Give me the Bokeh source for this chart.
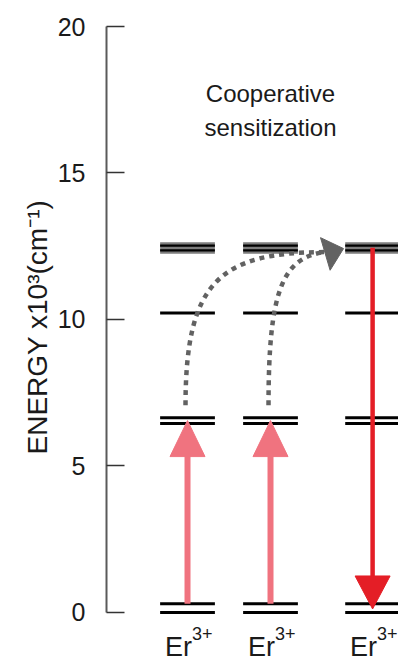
import numpy as np
from bokeh.plotting import figure
from bokeh.models import Range1d, FixedTicker, Title
from bokeh.embed import file_html
from bokeh.resources import INLINE
from bokeh.core.properties import value

# ---------------- data ----------------
ion_names = ["Er", "Er", "Er"]
ion_charges = ["3+", "3+", "3+"]
col_x = [1.0, 2.0, 3.23]
ground_levels = [0.0, 0.3]
mid_levels = [6.45, 6.65]
upper_level = [10.22]
band_bottom = 12.24
band_top = 12.64
band_lines = [12.36, 12.52]
y_ticks = [0, 5, 10, 15, 20]
pump_from = 0.3
pump_tip = 6.55
emit_from = 12.45
emit_tip = 0.12
# cooperative energy transfer curves (start, control 1, control 2, end)
curve_x0 = [0.976, 1.976]
curve_y0 = [7.07, 7.07]
curve_cx0 = [0.976, 1.976]
curve_cy0 = [11.33, 10.99]
curve_cx1 = [1.40, 2.145]
curve_cy1 = [12.29, 12.08]
curve_x1 = [2.65, 2.64]
curve_y1 = [12.30, 12.30]
gray_tip = (2.88, 12.42)
title_lines = ["Cooperative", "sensitization"]
title_y = [17.71, 16.55]
axis_title = "ENERGY x10³(cm⁻¹)"

# ---------------- figure ----------------
W, H = 398, 664
LEFT, TOP = 106, 26
XR = (0.024, 3.542)
YR = (-1.775, 20)
p = figure(width=W, height=H, output_backend="svg", toolbar_location=None,
           x_range=Range1d(*XR), y_range=Range1d(*YR),
           min_border_left=LEFT, min_border_right=0, min_border_top=TOP,
           min_border_bottom=0, x_axis_location=None)
p.outline_line_color = None
p.grid.visible = False
p.background_fill_color = "white"
p.border_fill_color = "white"

ax = p.yaxis[0]
ax.bounds = (0, 20)
ax.ticker = FixedTicker(ticks=y_ticks)
ax.minor_tick_line_color = None
ax.major_tick_in = 18
ax.major_tick_out = 0
ax.major_tick_line_color = "#333333"
ax.major_tick_line_width = 1.5
ax.axis_line_color = "#5a5a5a"
ax.axis_line_width = 2
ax.major_label_standoff = 21
ax.major_label_text_font = "Liberation Sans"
ax.major_label_text_font_size = "25px"
ax.major_label_text_color = "#1a1a1a"

p.add_layout(Title(text=axis_title, align="left", offset=210, standoff=4,
                   text_font="Liberation Sans", text_font_size="28px",
                   text_font_style="normal", text_color="#1a1a1a"), "left")

# pixel scale (for arrowheads sized in px)
sx = (W - LEFT) / (XR[1] - XR[0])
sy = (H - TOP) / (YR[1] - YR[0])

hw = 0.33
def hlines(ys, color, width):
    xs0, xs1, yy = [], [], []
    for cx in col_x:
        for y in ys:
            xs0.append(cx - hw); xs1.append(cx + hw); yy.append(y)
    p.segment(x0=xs0, y0=yy, x1=xs1, y1=yy, line_color=color, line_width=width)

# band
p.quad(left=[c - hw for c in col_x], right=[c + hw for c in col_x],
       bottom=[band_bottom] * 3, top=[band_top] * 3,
       fill_color="#7d7d7d", line_color=None)
hlines(band_lines, "black", 2.2)
hlines(ground_levels, "black", 3)
hlines(mid_levels, "black", 3)
hlines(upper_level, "black", 3)

def arrow(x, y_from, y_tip, color, shaft_w, head_h_px, head_w_px):
    d = np.sign(y_tip - y_from)
    hh = head_h_px / sy
    hwid = head_w_px / 2 / sx
    base = y_tip - d * hh
    p.segment(x0=[x], y0=[y_from], x1=[x], y1=[base + d * 0.05],
              line_color=color, line_width=shaft_w)
    p.patch(x=[x - hwid, x + hwid, x], y=[base, base, y_tip],
            fill_color=color, line_color=color, line_width=1)

pink = "#F0737F"
red = "#E41E26"
for cx in col_x[:2]:
    arrow(cx, pump_from, pump_tip, pink, 6, 36, 35)
arrow(col_x[2], emit_from, emit_tip, red, 4.5, 33, 35)

# dotted curves
gray = "#626262"
p.bezier(x0=curve_x0, y0=curve_y0, x1=curve_x1, y1=curve_y1,
         cx0=curve_cx0, cy0=curve_cy0, cx1=curve_cx1, cy1=curve_cy1,
         line_color=gray, line_width=4.5, line_dash="5 5")

# gray arrowhead
dirp = np.array([17.0, 5.0]); dirp /= np.linalg.norm(dirp)
perp = np.array([-dirp[1], dirp[0]])
tip_px = np.array([gray_tip[0] * sx, gray_tip[1] * sy])
base_px = tip_px - dirp * 19
v1 = base_px + perp * 17
v2 = base_px - perp * 17
p.patch(x=[v1[0] / sx, tip_px[0] / sx, v2[0] / sx],
        y=[v1[1] / sy, tip_px[1] / sy, v2[1] / sy],
        fill_color=gray, line_color=gray)

# annotation text
p.text(x=[2.0, 2.0], y=title_y, text=title_lines, text_align="center",
       text_baseline="middle", text_font=value("Liberation Sans"),
       text_font_size="24px", text_color="#1a1a1a")

# ion labels
p.text(x=[c + 0.054 for c in col_x], y=[-1.17] * 3, text=ion_names,
       text_align="right", text_baseline="alphabetic",
       text_font=value("Liberation Sans"), text_font_size="27px", text_color="#1a1a1a")
p.text(x=[c + 0.054 for c in col_x], y=[-0.72] * 3, text=ion_charges,
       text_align="left", text_baseline="alphabetic",
       text_font=value("Liberation Sans"), text_font_size="18px", text_color="#1a1a1a")

open("out.html", "w").write(file_html(p, INLINE))
